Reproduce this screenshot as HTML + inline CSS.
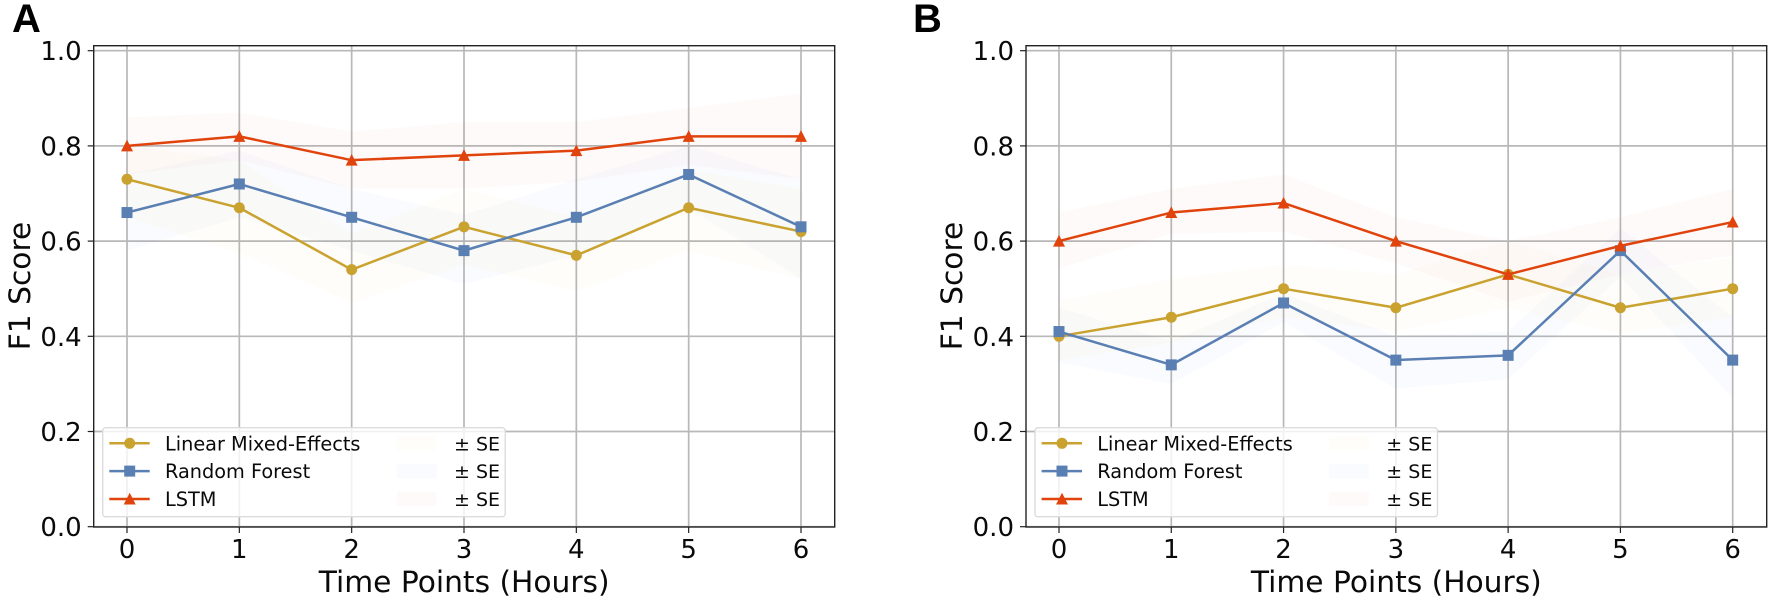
<!DOCTYPE html>
<html lang="en">
<head>
<meta charset="utf-8">
<title>F1 Score over Time Points</title>
<style>
html,body{margin:0;padding:0;background:#fff;width:1772px;height:602px;overflow:hidden}
svg{display:block}
text{font-family:"DejaVu Sans","Liberation Sans",sans-serif;fill:#0a0a0a}
.panel-letter{font-family:"Liberation Sans",sans-serif;font-weight:700;font-size:40px;fill:#000}
</style>
</head>
<body>
<svg id="figure" width="1772" height="602" viewBox="0 0 1772 602" xmlns="http://www.w3.org/2000/svg">
  <rect width="1772" height="602" fill="#fff"/>
  <text class="panel-letter" x="12" y="32">A</text>
  <text class="panel-letter" x="913" y="32">B</text>
</svg>
<script>
const timePoints = [0, 1, 2, 3, 4, 5, 6];
const yTickValues = [0, 0.2, 0.4, 0.6, 0.8, 1.0];
const yTickLabels = ['0.0', '0.2', '0.4', '0.6', '0.8', '1.0'];
const seriesNames = ['Linear Mixed-Effects', 'Random Forest', 'LSTM'];
const seLabel = '± SE';
const xAxisTitle = 'Time Points (Hours)';
const yAxisTitle = 'F1 Score';

const aLme = [0.73, 0.67, 0.54, 0.63, 0.57, 0.67, 0.62];
const aLmeUpper = [0.80, 0.77, 0.615, 0.71, 0.65, 0.75, 0.71];
const aLmeLower = [0.65, 0.575, 0.47, 0.55, 0.495, 0.58, 0.52];
const aRf = [0.66, 0.72, 0.65, 0.58, 0.65, 0.74, 0.63];
const aRfUpper = [0.74, 0.79, 0.71, 0.655, 0.73, 0.80, 0.73];
const aRfLower = [0.58, 0.65, 0.58, 0.51, 0.57, 0.67, 0.52];
const aLstm = [0.80, 0.82, 0.77, 0.78, 0.79, 0.82, 0.82];
const aLstmUpper = [0.86, 0.87, 0.83, 0.85, 0.85, 0.88, 0.91];
const aLstmLower = [0.74, 0.77, 0.71, 0.71, 0.725, 0.76, 0.73];

const bLme = [0.40, 0.44, 0.50, 0.46, 0.53, 0.46, 0.50];
const bLmeUpper = [0.475, 0.52, 0.55, 0.53, 0.60, 0.53, 0.566];
const bLmeLower = [0.35, 0.386, 0.44, 0.41, 0.46, 0.405, 0.44];
const bRf = [0.41, 0.34, 0.47, 0.35, 0.36, 0.58, 0.35];
const bRfUpper = [0.46, 0.39, 0.49, 0.40, 0.41, 0.627, 0.44];
const bRfLower = [0.345, 0.30, 0.43, 0.29, 0.31, 0.525, 0.27];
const bLstm = [0.60, 0.66, 0.68, 0.60, 0.53, 0.59, 0.64];
const bLstmUpper = [0.66, 0.71, 0.74, 0.65, 0.60, 0.65, 0.71];
const bLstmLower = [0.543, 0.615, 0.62, 0.553, 0.473, 0.53, 0.57];

const colors = ['#c9a22f', '#5a7fb3', '#e0440c'];
const bandColors = ['#e6c02c', '#4f78d8', '#d84a40'];
const bandOpacity = 0.028;
const NS = 'http://www.w3.org/2000/svg';
const fig = document.getElementById('figure');

function mk(parent, tag, attrs, text) {
  const el = document.createElementNS(NS, tag);
  for (const k in attrs) el.setAttribute(k, attrs[k]);
  if (text !== undefined) el.textContent = text;
  parent.appendChild(el);
  return el;
}

function marker(parent, kind, x, y, color) {
  let el;
  if (kind === 0) {
    el = mk(parent, 'circle', {cx: x, cy: y, r: 5.5, fill: color});
  } else if (kind === 1) {
    el = mk(parent, 'rect', {x: x - 5.5, y: y - 5.5, width: 11, height: 11, fill: color});
  } else {
    el = mk(parent, 'polygon', {points: (x - 6) + ',' + (y + 5.5) + ' ' + (x + 6) + ',' + (y + 5.5) + ' ' + x + ',' + (y - 6.2), fill: color});
  }
  return el;
}

function drawPanel(key, left, right, x0, x6, lines, uppers, lowers, yLabelX, tickRight) {
  const top = 45.7, bottom = 527;
  const xScale = v => x0 + (x6 - x0) * v / 6;
  const yScale = v => 526.7 - 476 * v;

  const panel = mk(fig, 'g', {});
  
  

  timePoints.forEach(t => {
    const grid = mk(panel, 'line', {x1: xScale(t), x2: xScale(t), y1: top, y2: bottom, stroke: '#b8b8b8', 'stroke-width': 1.7});
    
    
    const tick = mk(panel, 'line', {x1: xScale(t), x2: xScale(t), y1: bottom, y2: bottom + 6, stroke: '#222', 'stroke-width': 1.2});
    
    
    const label = mk(panel, 'text', {x: xScale(t), y: 558, 'text-anchor': 'middle', 'font-size': 26}, String(t));
    
    
  });

  yTickValues.forEach((v, i) => {
    const grid = mk(panel, 'line', {x1: left, x2: right, y1: yScale(v), y2: yScale(v), stroke: '#b8b8b8', 'stroke-width': 1.7});
    
    
    const tick = mk(panel, 'line', {x1: left - 6, x2: left, y1: yScale(v), y2: yScale(v), stroke: '#222', 'stroke-width': 1.2});
    
    
    const label = mk(panel, 'text', {x: tickRight, y: yScale(v) + 9.5, 'text-anchor': 'end', 'font-size': 26}, yTickLabels[i]);
    
    
  });

  lines.forEach((vals, s) => {
    const up = uppers[s].map((v, i) => xScale(timePoints[i]) + ',' + yScale(v));
    const lo = lowers[s].map((v, i) => xScale(timePoints[i]) + ',' + yScale(v)).reverse();
    const band = mk(panel, 'polygon', {points: up.concat(lo).join(' '), fill: bandColors[s], 'fill-opacity': bandOpacity});
    
    
  });

  lines.forEach((vals, s) => {
    const pts = vals.map((v, i) => xScale(timePoints[i]) + ',' + yScale(v)).join(' ');
    const line = mk(panel, 'polyline', {points: pts, fill: 'none', stroke: colors[s], 'stroke-width': 2.5, 'stroke-linejoin': 'round'});
    
    
    vals.forEach((v, i) => {
      const m = marker(panel, s, xScale(timePoints[i]), yScale(v), colors[s]);
      
      
    });
  });

  const frame = mk(panel, 'rect', {x: left, y: top, width: right - left, height: bottom - top, fill: 'none', stroke: '#222', 'stroke-width': 1.4});
  
  

  const xt = mk(panel, 'text', {x: (left + right) / 2, y: 592, 'text-anchor': 'middle', 'font-size': 29.7}, xAxisTitle);
  
  
  const yt = mk(panel, 'text', {x: yLabelX, y: 286, 'text-anchor': 'middle', 'font-size': 29.7, transform: 'rotate(-90 ' + yLabelX + ' 286)'}, yAxisTitle);
  
  

  const lx = left + 9;
  const legend = mk(panel, 'g', {});
  
  
  const box = mk(legend, 'rect', {x: lx, y: 427.7, width: 402.5, height: 89, rx: 3, ry: 3, fill: '#fff', 'fill-opacity': 0.8, stroke: '#dcdcdc', 'stroke-width': 1.4});
  
  
  const rowY = [443.3, 471.1, 499];
  seriesNames.forEach((name, s) => {
    const y = rowY[s];
    const h = mk(legend, 'line', {x1: lx + 6.6, x2: lx + 47, y1: y, y2: y, stroke: colors[s], 'stroke-width': 2.5});
    
    
    const m = marker(legend, s, lx + 27, y, colors[s]);
    
    
    const t = mk(legend, 'text', {x: lx + 62.3, y: y + 7, 'font-size': 19.3}, name);
    
    
    const p = mk(legend, 'rect', {x: lx + 294, y: y - 7, width: 40, height: 14, fill: bandColors[s], 'fill-opacity': bandOpacity});
    
    
    const se = mk(legend, 'text', {x: lx + 351.3, y: y + 7, 'font-size': 19}, seLabel);
    
    
  });
}

drawPanel('a', 93.7, 834.7, 127, 801, [aLme, aRf, aLstm], [aLmeUpper, aRfUpper, aLstmUpper], [aLmeLower, aRfLower, aLstmLower], 30, 81.7);
drawPanel('b', 1026, 1766.7, 1059, 1732.7, [bLme, bRf, bLstm], [bLmeUpper, bRfUpper, bLstmUpper], [bLmeLower, bRfLower, bLstmLower], 962, 1014);
</script>
</body>
</html>
